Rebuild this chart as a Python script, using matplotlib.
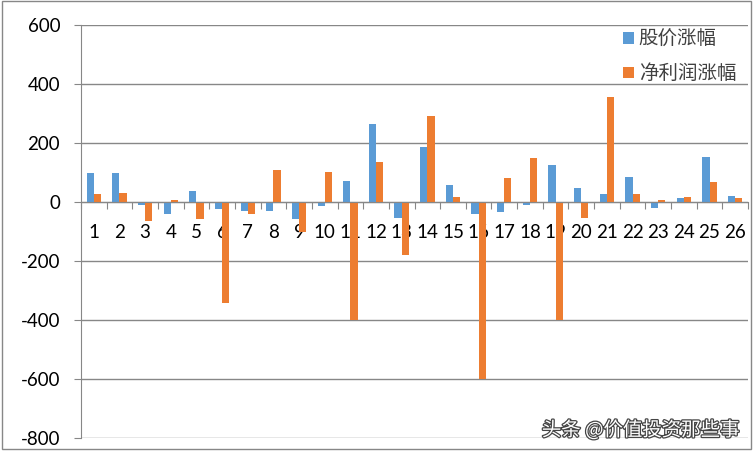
import numpy as np
import matplotlib
matplotlib.use("Agg")
import matplotlib.pyplot as plt
import matplotlib.patheffects as pe
from matplotlib.patches import Rectangle

plt.rcParams['font.family'] = ['Lato', 'Noto Sans CJK SC', 'DejaVu Sans']

# --- Data --- #
categories = [str(i) for i in range(1, 27)]
price_change = [96, 96, -12, -42, 35, -25, -33, -32, -59, -16,
                69, 263, -55, 184, 55, -40, -35, -12, 123, 45,
                25, 82, -21, 12, 150, 21]
profit_change = [25, 29, -66, 5, -59, -343, -43, 106, -103, 99,
                 -400, 133, -181, 290, 16, -600, 79, 148, -400, -55,
                 355, 25, 5, 15, 66, 11]
series_names = ['股价涨幅', '净利润涨幅']
y_ticks = [-800, -600, -400, -200, 0, 200, 400, 600]

blue = '#5B9BD5'
orange = '#ED7D31'
grey = '#878787'

# --- Plot --- #
fig = plt.figure(figsize=(7.53, 4.53), dpi=100)
ax = fig.add_axes([81 / 753, 1 - 438 / 453, 667 / 753, (438 - 24.5) / 453])

x = np.arange(len(categories))
w = 0.28
ax.bar(x - w / 2, price_change, w, color=blue, label=series_names[0], zorder=3)
ax.bar(x + w / 2, profit_change, w, color=orange, label=series_names[1], zorder=3)

ax.set_xlim(-0.5, len(categories) - 0.5)
ax.set_ylim(-800, 600)
ax.set_yticks(y_ticks)
ax.set_yticklabels([str(v) for v in y_ticks], fontsize=13.5)
ax.yaxis.grid(True, color=grey, linewidth=1)
ax.set_axisbelow(True)

# category axis sits on the zero line
for s in ['top', 'right']:
    ax.spines[s].set_visible(False)
ax.spines['left'].set_color(grey)
ax.spines['bottom'].set_position(('data', 0))
ax.spines['bottom'].set_color(grey)
ax.spines['bottom'].set_zorder(4)

ax.set_xticks(np.arange(len(categories) + 1) - 0.5)
ax.set_xticklabels([])
ax.set_xticks(x, minor=True)
ax.set_xticklabels(categories, minor=True, fontsize=13.5)
ax.tick_params(axis='x', which='major', direction='out', length=5, color=grey)
ax.tick_params(axis='x', which='minor', length=0, pad=16)
ax.tick_params(axis='y', direction='out', length=5, color=grey, pad=10)

leg = ax.legend(loc='upper right', bbox_to_anchor=(1.0, 1.015), frameon=False,
                fontsize=14, handlelength=0.55, handleheight=0.55,
                handletextpad=0.25, labelspacing=0.8, borderaxespad=0.2)
for t in leg.get_texts():
    t.set_color('#404040')

fig.text(0.983, 0.05, '头条 @价值投资那些事', ha='right', va='center',
         fontsize=14, color='white', family=['Noto Sans CJK SC', 'DejaVu Sans'],
         path_effects=[pe.withStroke(linewidth=1.8, foreground='#444444')])

fig.patches.append(Rectangle((2 / 753, 1 - 449 / 453), 749 / 753, 448 / 453,
                             transform=fig.transFigure, fill=False,
                             edgecolor=grey, linewidth=1))

fig.savefig('out.png', dpi=100)
